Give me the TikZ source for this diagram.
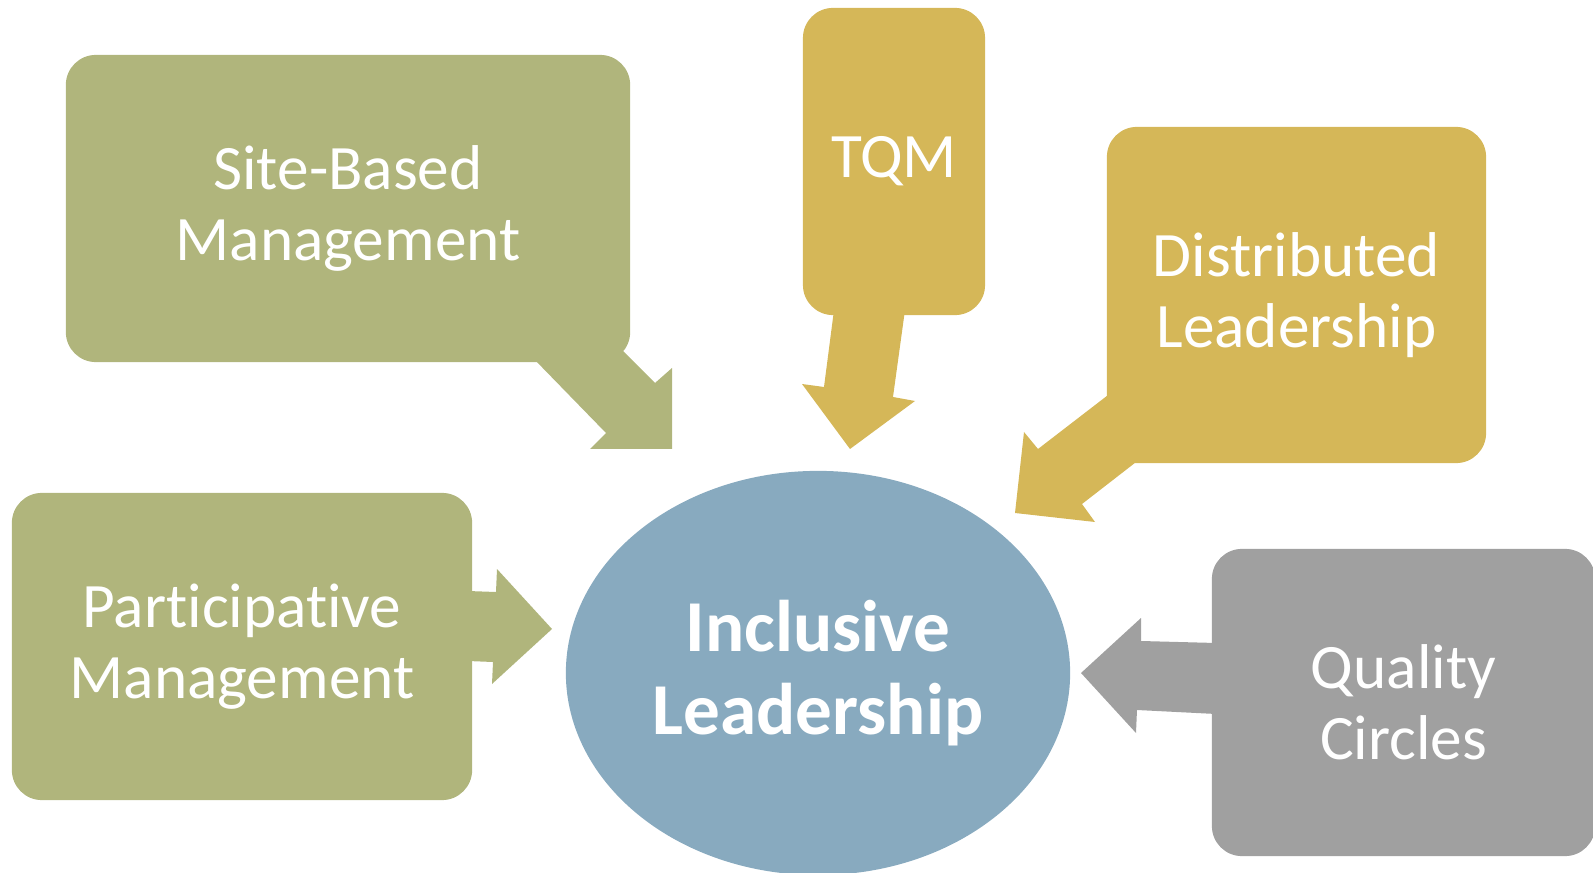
\documentclass[tikz,border=0pt]{standalone}
\usepackage{fontspec}
\setmainfont{Carlito}[Ligatures={NoCommon,NoRare}]
\usetikzlibrary{shapes.geometric}
\definecolor{cgreen}{RGB}{176,181,124}
\definecolor{cgold}{RGB}{213,183,88}
\definecolor{cgray}{RGB}{160,160,160}
\definecolor{cblue}{RGB}{136,170,191}
\tikzset{
  box/.style={rounded corners=0.3cm, inner sep=0pt, align=center, text=white,
    font=\fontsize{18}{20.2}\selectfont},
  hub/.style={ellipse, inner sep=0pt, align=center, text=white,
    font=\bfseries\fontsize{20.8}{23.6}\selectfont},
}
\begin{document}
\begin{tikzpicture}[x=0.01cm, y=-0.01cm]
\useasboundingbox (0,0) rectangle (1593,873);
\clip (0,0) rectangle (1593,873);
% boxes
\node[box, fill=cgreen, minimum width=5.64cm, minimum height=3.07cm] (sb) at (348,208.5) {Site-Based\\Management};
\node[box, fill=cgold, minimum width=1.82cm, minimum height=3.07cm] (tqm) at (894,161.5) {TQM};
\node[box, fill=cgold, minimum width=3.79cm, minimum height=3.36cm] (dl) at (1296.5,295) {Distributed\\Leadership};
\node[box, fill=cgreen, minimum width=4.60cm, minimum height=3.07cm] (pm) at (242,646.5) {Participative\\Management};
\node[box, fill=cgray, minimum width=3.83cm, minimum height=3.07cm] (qc) at (1403.5,702.5) {Quality\\Circles};
% callout arrows
\fill[cgreen] (533,358) -- (606,433) -- (590,449) -- (672,449) -- (672,368) -- (655,383) -- (622,350) -- cycle;
\fill[cgold] (834,310) -- (824,387) -- (802,384) -- (850,449) -- (915,401) -- (893,397) -- (905,310) -- cycle;
\fill[cgold] (1112,392) -- (1038,449) -- (1024,432) -- (1015,513) -- (1095,522) -- (1082,504) -- (1140,459) -- (1140,392) -- cycle;
\fill[cgreen] (468,591) -- (496,592) -- (497,569) -- (552,629) -- (492,684) -- (493,662) -- (468,661) -- cycle;
\fill[cgray] (1216,643) -- (1141,641) -- (1141,618) -- (1081,673) -- (1136,733) -- (1137,710) -- (1216,714) -- cycle;
% hub
\node[hub, fill=cblue, minimum width=5.04cm, minimum height=4.04cm] (il) at (818,673) {Inclusive\\Leadership};
\end{tikzpicture}
\end{document}
